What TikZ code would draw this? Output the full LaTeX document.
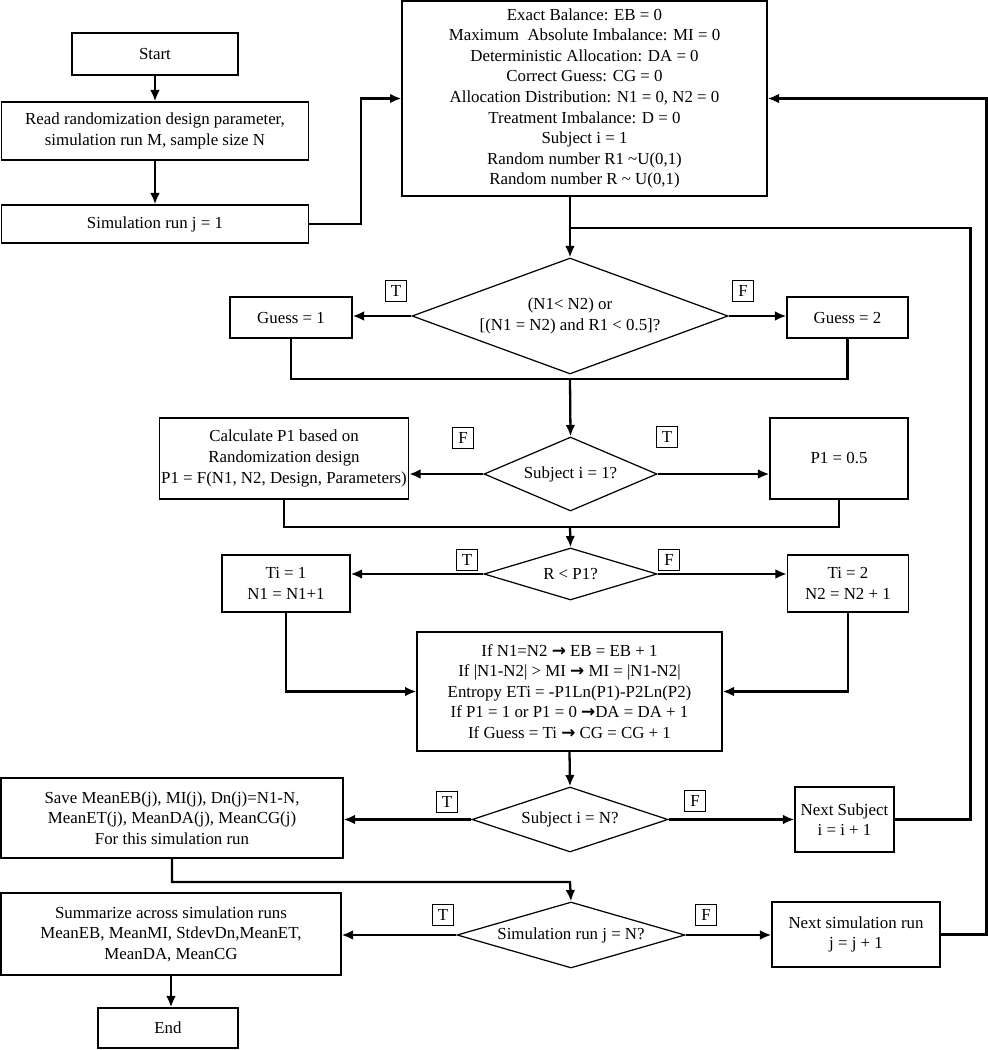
\documentclass[tikz,border=0pt]{standalone}
\usepackage{fontspec}
\setmainfont{Liberation Serif}
\newfontfamily\symfont{DejaVu Sans}
\usetikzlibrary{shapes.geometric, arrows.meta}

\newcommand{\then}{{\symfont\bfseries →}}

\begin{document}
\begin{tikzpicture}[x=0.02cm, y=-0.02cm,
    box/.style      = {rectangle, draw=black, line width=0.7pt, align=center, inner sep=1pt,
                       font=\fontsize{9.6}{11.7}\selectfont},
    decision/.style = {diamond, draw=black, line width=0.7pt, align=center, inner sep=0pt,
                       font=\fontsize{9.6}{11.7}\selectfont},
    flag/.style     = {rectangle, draw=black, line width=0.6pt, minimum width=0.42cm,
                       minimum height=0.42cm, inner sep=0pt, font=\fontsize{9.6}{11.7}\selectfont},
    arrow/.style    = {-{Latex[length=6.5pt,width=5.5pt]}, line width=1.3pt},
    link/.style     = {line width=1.3pt},
]
\useasboundingbox (0,0) rectangle (987,1050);

% Inicio
\node[box, minimum width=3.32cm, minimum height=0.84cm] (start) at (155,54) {Start};
\node[box, minimum width=6.14cm, minimum height=1.16cm] (read) at (155,131)
    {Read randomization design parameter,\\simulation run M, sample size N};
\node[box, minimum width=6.14cm, minimum height=0.76cm] (simrun) at (155,224) {Simulation run j = 1};

% Inicializacion
\node[box, minimum width=7.30cm, minimum height=3.90cm] (init) at (584.5,98.5)
    {Exact Balance: EB = 0\\
     Maximum\ \ Absolute Imbalance: MI = 0\\
     Deterministic Allocation: DA = 0\\
     Correct Guess: CG = 0\\
     Allocation Distribution: N1 = 0, N2 = 0\\
     Treatment Imbalance: D = 0\\
     Subject i = 1\\
     Random number R1 \textasciitilde U(0,1)\\
     Random number R \textasciitilde\ U(0,1)};
\coordinate (merge) at (570,228);

% Guess
\node[decision, minimum width=6.32cm, minimum height=2.32cm, shape aspect=2.7] (d1) at (570,316)
    {(N1< N2) or\\{}[(N1 = N2) and R1 < 0.5]?};
\node[box, minimum width=2.44cm, minimum height=0.82cm] (g1) at (291,317.5) {Guess = 1};
\node[box, minimum width=2.42cm, minimum height=0.82cm] (g2) at (847.5,317.5) {Guess = 2};
\coordinate (join1) at (570,379);

% P1
\node[decision, minimum width=3.46cm, minimum height=1.48cm, shape aspect=2.3] (d2) at (570.5,474)
    {Subject i = 1?};
\node[box, minimum width=4.96cm, minimum height=1.62cm] (calc) at (284,458.5)
    {Calculate P1 based on\\Randomization design\\P1 = F(N1, N2, Design, Parameters)};
\node[box, minimum width=2.76cm, minimum height=1.62cm] (p1) at (839,458.5) {P1 = 0.5};
\coordinate (join2) at (570,527);

% Asignacion
\node[decision, minimum width=3.46cm, minimum height=1.04cm, shape aspect=3.3] (d3) at (570.5,574)
    {R < P1?};
\node[box, minimum width=2.56cm, minimum height=1.14cm] (ti1) at (286,583.5) {Ti = 1\\N1 = N1+1};
\node[box, minimum width=2.42cm, minimum height=1.14cm] (ti2) at (848,583.5) {Ti = 2\\N2 = N2 + 1};
\node[box, minimum width=6.10cm, minimum height=2.38cm] (upd) at (569.5,691.5)
    {If N1=N2 \then{} EB = EB + 1\\
     If |N1-N2| > MI \then{} MI = |N1-N2|\\
     Entropy ETi = -P1Ln(P1)-P2Ln(P2)\\
     If P1 = 1 or P1 = 0 \then DA = DA + 1\\
     If Guess = Ti \then{} CG = CG + 1};

% Fin de sujetos
\node[decision, minimum width=3.92cm, minimum height=1.30cm, shape aspect=3] (d4) at (570,819.5)
    {Subject i = N?};
\node[box, minimum width=6.84cm, minimum height=1.60cm] (save) at (172,818)
    {Save MeanEB(j), MI(j), Dn(j)=N1-N,\\MeanET(j), MeanDA(j), MeanCG(j)\\For this simulation run};
\node[box, minimum width=1.98cm, minimum height=1.30cm] (nsub) at (844.5,819.5) {Next Subject\\i = i + 1};
\coordinate (join3) at (570,882);

% Fin de corridas
\node[decision, minimum width=4.56cm, minimum height=1.32cm, shape aspect=3.4] (d5) at (571,935)
    {Simulation run j = N?};
\node[box, minimum width=6.80cm, minimum height=1.64cm] (summ) at (171,934)
    {Summarize across simulation runs\\MeanEB, MeanMI, StdevDn,MeanET,\\MeanDA, MeanCG};
\node[box, minimum width=3.36cm, minimum height=1.30cm] (nsim) at (856,934.5) {Next simulation run\\j = j + 1};
\node[box, minimum width=2.80cm, minimum height=0.80cm] (endn) at (168,1028) {End};

% Etiquetas T/F
\node[flag] (t1) at (396,291) {T};
\node[flag] (f1) at (743,291) {F};
\node[flag] (f2) at (463,438) {F};
\node[flag] (t2) at (667,437) {T};
\node[flag] (t3) at (467,560) {T};
\node[flag] (f3) at (669,560) {F};
\node[flag] (t4) at (447,802) {T};
\node[flag] (f4) at (695,801) {F};
\node[flag] (t5) at (443,915) {T};
\node[flag] (f5) at (706,915) {F};

% Flechas
\draw[arrow] (start) -- (read);
\draw[arrow] (read) -- (simrun);
\draw[arrow] (simrun.east) -- ++(52,0) |- (init.west);
\draw[arrow] (d1.north |- init.south) -- (d1.north);
\draw[link] (nsub.east) -- ++(76,0) |- (merge);
\draw[arrow] (nsim.east) -- ++(46,0) |- (init.east);

\draw[arrow] (d1.west) -- (d1.west -| g1.east);
\draw[arrow] (d1.east) -- (d1.east -| g2.west);
\draw[link] (g1.south) |- (join1) -| (g2.south);
\draw[arrow] (join1) -- (d2.north);

\draw[arrow] (d2.west) -- (d2.west -| calc.east);
\draw[arrow] (d2.east) -- (d2.east -| p1.west);
\draw[link] (calc.south) |- (join2) -| (p1.south);
\draw[arrow] (join2) -- (d3.north);

\draw[arrow] (d3.west) -- (d3.west -| ti1.east);
\draw[arrow] (d3.east) -- (d3.east -| ti2.west);
\draw[arrow] (ti1.south) |- (upd.west);
\draw[arrow] (ti2.south) |- (upd.east);
\draw[arrow] (upd.south) -- (d4.north);

\draw[arrow] (d4.west) -- (d4.west -| save.east);
\draw[arrow] (d4.east) -- (d4.east -| nsub.west);
\draw[arrow] (save.south) |- (join3) -- (d5.north);

\draw[arrow] (d5.west) -- (d5.west -| summ.east);
\draw[arrow] (d5.east) -- (d5.east -| nsim.west);
\draw[arrow] (summ.south) -- (summ.south |- endn.north);

\end{tikzpicture}
\end{document}
